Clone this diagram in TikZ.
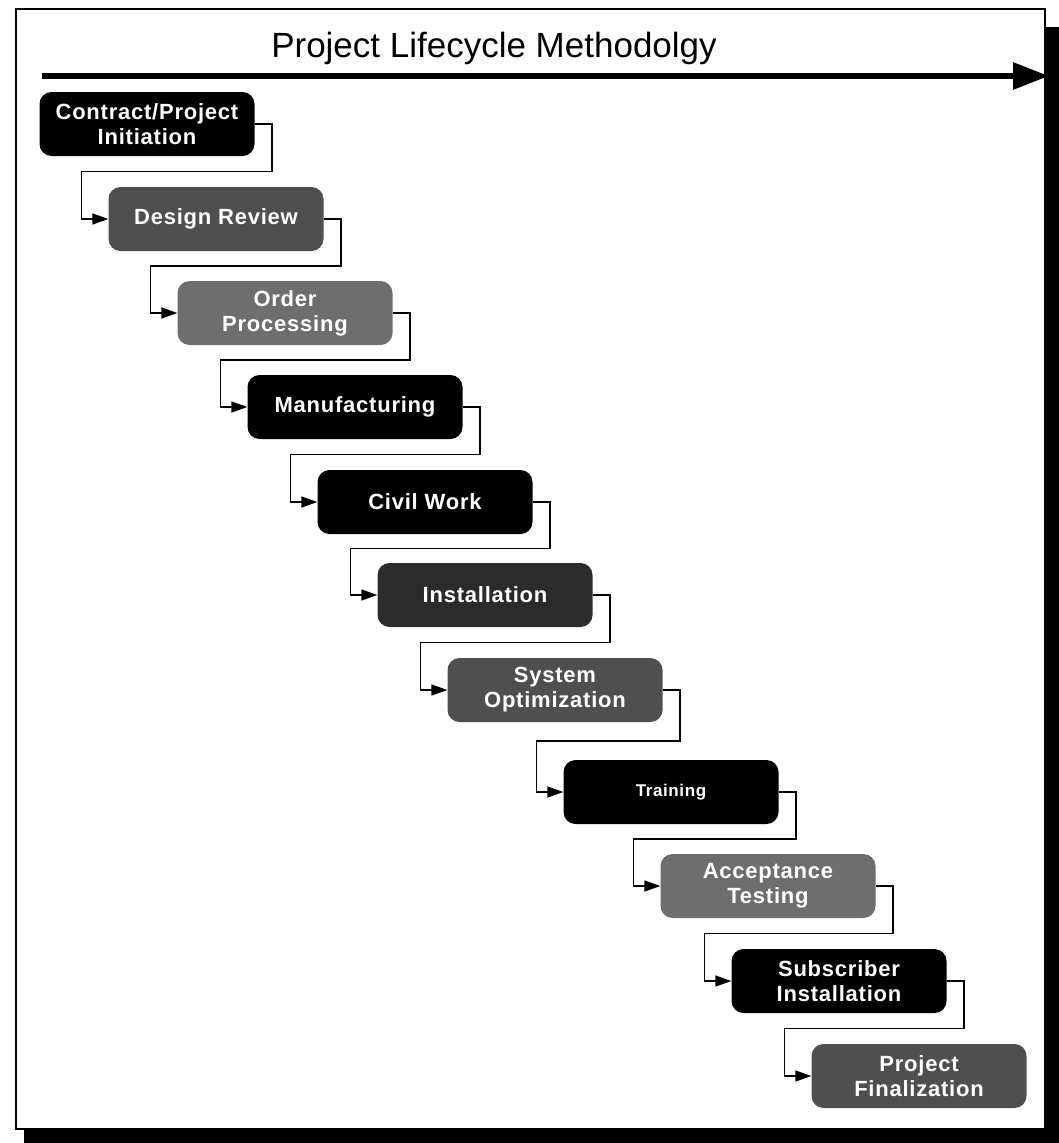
\documentclass[tikz,border=0pt]{standalone}
\usepackage{fontspec}
\setmainfont{Liberation Sans}
\newfontfamily\phasefont[LetterSpace=3.5]{Liberation Sans}
\usetikzlibrary{arrows.meta,calc}
\definecolor{lightphase}{gray}{0.43}
\definecolor{midphase}{gray}{0.31}
\definecolor{darkphase}{gray}{0.17}
\begin{document}
\begin{tikzpicture}[x=1pt,y=-1pt]
\tikzset{phase/.style={rounded corners=12pt, minimum width=215pt, minimum height=64pt,
    inner sep=2pt, text=white, align=center, font=\phasefont\fontsize{22}{25}\selectfont\bfseries},
  link/.style={line width=1.6pt, -{Triangle[length=16pt,width=11pt]}}}
% page, drop shadow and frame
\useasboundingbox (0,0) rectangle (1059,1143);
\fill[black] (24,27) rectangle (1059,1143);
\draw[fill=white, line width=1.2pt] (16,9) rectangle (1045,1129);
% title and time arrow
\node (title) [anchor=base, font=\fontsize{35}{40}\selectfont] at (494,57) {Project Lifecycle Methodolgy};
\coordinate (axis start) at (42,76);
\coordinate (axis end) at (1049,76);
\draw[line width=6pt, -{Triangle[length=36pt,width=26pt]}] (axis start) -- (axis end);
% the phases
\node (init)     [phase, fill=black]      at (147,124)  {Contract/Project\\Initiation};
\node (review)   [phase, fill=midphase]   at (216,219)  {Design Review};
\node (order)    [phase, fill=lightphase] at (285,313)  {Order\\Processing};
\node (manuf)    [phase, fill=black]      at (355,407)  {Manufacturing};
\node (civil)    [phase, fill=black]      at (425,502)  {Civil Work};
\node (install)  [phase, fill=darkphase]  at (485,595)  {Installation};
\node (optim)    [phase, fill=midphase]   at (555,690)  {System\\Optimization};
\node (training) [phase, fill=black, font=\phasefont\fontsize{17}{20}\selectfont\bfseries] at (671,792) {Training};
\node (accept)   [phase, fill=lightphase] at (768,886)  {Acceptance\\Testing};
\node (subscr)   [phase, fill=black]      at (839,981)  {Subscriber\\Installation};
\node (final)    [phase, fill=midphase]   at (919,1076) {Project\\Finalization};
% stair-step connectors
\foreach \a/\b in {init/review, review/order, order/manuf, manuf/civil, civil/install,
    install/optim, optim/training, training/accept, accept/subscr, subscr/final} {
  \draw[link] (\a.east) -- ++(17,0) |- ($(\a.south)!.5!(\b.north)$)
    -| ([xshift=-27pt]\b.west) -- (\b.west);
}
\end{tikzpicture}
\end{document}
